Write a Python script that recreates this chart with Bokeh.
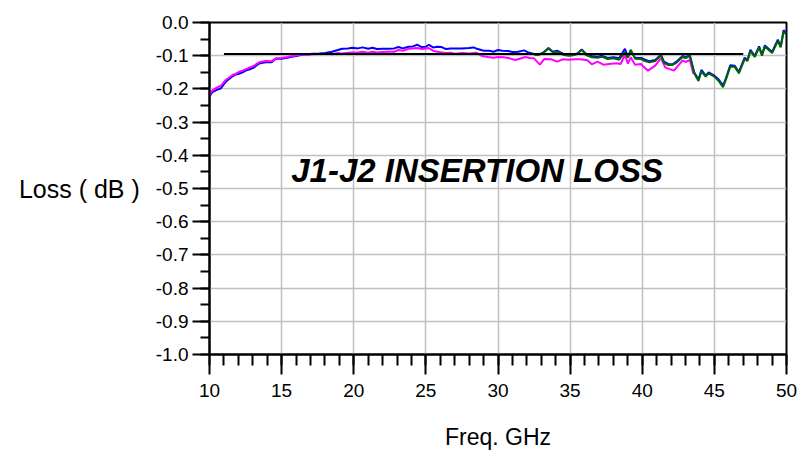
from bokeh.plotting import figure
from bokeh.models import ColumnDataSource, Range1d, FixedTicker, PrintfTickFormatter, Label
from bokeh.embed import file_html
from bokeh.resources import INLINE

# ---- data ----
blue_f = [10.0, 10.2, 10.5, 10.8, 11.1, 11.3, 11.6, 11.8, 12.0, 12.3, 12.5, 12.8, 13.1, 13.4, 13.6, 13.9,
          14.3, 14.6, 15.0, 15.4, 15.7, 16.1, 16.4, 16.8, 17.1, 17.6, 18.0, 18.5, 18.9, 19.2, 19.6, 19.9,
          20.3, 20.6, 21.0, 21.3, 21.6, 22.0, 22.4, 22.8, 23.1, 23.4, 23.8, 24.1, 24.4, 24.7, 25.0, 25.2,
          25.5, 25.8, 26.1, 26.4, 26.7, 27.0, 27.5, 28.0, 28.3, 28.6, 29.0, 29.4, 29.7, 30.0, 30.3, 30.7,
          31.0, 31.4, 31.8, 32.1, 32.5, 32.8, 33.1, 33.5, 33.8, 34.1, 34.5, 34.9, 35.2, 35.5, 35.8, 36.1,
          36.5, 36.9, 37.2, 37.6, 38.0, 38.4, 38.8, 39.0, 39.2, 39.5, 39.9, 40.2, 40.5, 40.9, 41.3, 41.5,
          41.8, 42.1, 42.4, 42.8, 43.0, 43.3, 43.6, 43.9, 44.1, 44.4, 44.6, 45.0, 45.3, 45.6, 45.8, 46.1,
          46.4, 46.7, 47.1, 47.3, 47.5, 47.8, 48.1, 48.3, 48.5, 49.0, 49.4, 49.6, 49.8, 50.0]
blue_db = [-0.222, -0.210, -0.203, -0.198, -0.180, -0.172, -0.162, -0.157, -0.155, -0.150, -0.145, -0.141,
           -0.135, -0.124, -0.122, -0.120, -0.120, -0.109, -0.109, -0.106, -0.103, -0.100, -0.097, -0.096,
           -0.094, -0.093, -0.092, -0.088, -0.083, -0.079, -0.078, -0.076, -0.078, -0.075, -0.079, -0.076,
           -0.080, -0.079, -0.079, -0.078, -0.074, -0.078, -0.073, -0.072, -0.067, -0.074, -0.073, -0.067,
           -0.075, -0.073, -0.074, -0.080, -0.078, -0.078, -0.078, -0.077, -0.075, -0.080, -0.085, -0.085,
           -0.088, -0.083, -0.085, -0.086, -0.089, -0.088, -0.084, -0.090, -0.095, -0.096, -0.092, -0.077,
           -0.088, -0.085, -0.094, -0.098, -0.097, -0.093, -0.081, -0.095, -0.101, -0.103, -0.100, -0.107,
           -0.105, -0.108, -0.079, -0.104, -0.085, -0.106, -0.107, -0.112, -0.117, -0.113, -0.097, -0.118,
           -0.125, -0.126, -0.117, -0.101, -0.104, -0.099, -0.150, -0.172, -0.143, -0.160, -0.150, -0.160,
           -0.172, -0.190, -0.168, -0.129, -0.130, -0.149, -0.106, -0.113, -0.082, -0.101, -0.072, -0.097,
           -0.069, -0.089, -0.052, -0.072, -0.023, -0.032]

magenta_f = [10.0, 10.2, 10.5, 10.8, 11.1, 11.3, 11.6, 11.8, 12.0, 12.3, 12.5, 12.8, 13.1, 13.4, 13.6, 13.9,
             14.3, 14.6, 15.0, 15.4, 15.7, 16.1, 16.4, 16.8, 17.1, 17.6, 18.0, 18.5, 18.9, 19.2, 19.6, 19.9,
             20.3, 20.6, 21.0, 21.3, 21.6, 22.0, 22.4, 22.8, 23.1, 23.4, 23.8, 24.1, 24.4, 24.7, 25.0, 25.2,
             25.5, 25.8, 26.1, 26.4, 26.7, 27.0, 27.5, 28.0, 28.5, 28.9, 29.3, 29.7, 30.0, 30.4, 30.8, 31.2,
             31.5, 31.9, 32.2, 32.5, 32.9, 33.2, 33.7, 34.1, 34.5, 34.9, 35.3, 35.7, 36.2, 36.5, 36.9, 37.3,
             37.7, 38.2, 38.5, 38.8, 39.0, 39.2, 39.5, 39.9, 40.1, 40.4, 40.9, 41.3, 41.6, 42.2, 42.8, 43.0,
             43.3, 43.55]
magenta_db = [-0.218, -0.205, -0.196, -0.190, -0.174, -0.168, -0.158, -0.155, -0.150, -0.145, -0.141, -0.135,
              -0.130, -0.121, -0.118, -0.116, -0.117, -0.108, -0.107, -0.104, -0.101, -0.099, -0.096, -0.098,
              -0.096, -0.095, -0.094, -0.096, -0.092, -0.093, -0.091, -0.090, -0.090, -0.088, -0.091, -0.088,
              -0.090, -0.089, -0.088, -0.088, -0.083, -0.085, -0.079, -0.078, -0.077, -0.080, -0.078, -0.077,
              -0.085, -0.088, -0.090, -0.092, -0.091, -0.094, -0.092, -0.093, -0.091, -0.101, -0.104, -0.106,
              -0.104, -0.105, -0.108, -0.113, -0.109, -0.104, -0.107, -0.108, -0.127, -0.110, -0.111, -0.118,
              -0.111, -0.112, -0.111, -0.111, -0.114, -0.126, -0.118, -0.127, -0.125, -0.123, -0.125, -0.097,
              -0.124, -0.105, -0.127, -0.125, -0.133, -0.145, -0.130, -0.107, -0.136, -0.145, -0.114, -0.119,
              -0.113, -0.155]

green_f = [32.5, 32.8, 33.1, 33.5, 33.8, 34.1, 34.5, 34.9, 35.2, 35.5, 35.8, 36.1, 36.5, 36.9, 37.2, 37.6,
           38.0, 38.4, 38.8, 39.0, 39.2, 39.5, 39.9, 40.2, 40.5, 40.9, 41.3, 41.5, 41.8, 42.1, 42.4, 42.8,
           43.0, 43.3, 43.6, 43.9, 44.1, 44.4, 44.6, 45.0, 45.3, 45.6, 45.8, 46.1, 46.4, 46.7, 47.1, 47.3,
           47.5, 47.8, 48.1, 48.3, 48.5, 49.0, 49.4, 49.6, 49.8, 50.0]
green_db = [-0.097, -0.098, -0.093, -0.078, -0.090, -0.088, -0.097, -0.100, -0.099, -0.095, -0.082, -0.098,
            -0.105, -0.106, -0.103, -0.110, -0.108, -0.112, -0.090, -0.106, -0.082, -0.109, -0.110, -0.116,
            -0.120, -0.116, -0.099, -0.121, -0.128, -0.128, -0.120, -0.104, -0.107, -0.101, -0.153, -0.176,
            -0.147, -0.163, -0.153, -0.163, -0.176, -0.195, -0.172, -0.133, -0.133, -0.153, -0.110, -0.116,
            -0.086, -0.104, -0.075, -0.100, -0.072, -0.092, -0.056, -0.075, -0.027, -0.036]

ref_f = [11.0, 47.0]
ref_db = [-0.095, -0.095]

x_ticks = [10, 15, 20, 25, 30, 35, 40, 45, 50]
x_minor = list(range(10, 51))
y_ticks = [0.0, -0.1, -0.2, -0.3, -0.4, -0.5, -0.6, -0.7, -0.8, -0.9, -1.0]
y_minor = [round(-i * 0.05, 2) for i in range(21)]

title_text = "J1-J2 INSERTION LOSS"
x_label = "Freq. GHz"
y_label = "Loss ( dB )"

FONT = "Liberation Sans"

p = figure(width=797, height=456, output_backend="svg", toolbar_location=None,
           x_range=Range1d(10, 50), y_range=Range1d(-1.0, 0.0),
           min_border_left=209, min_border_right=11, min_border_top=22, min_border_bottom=102)
p.background_fill_color = "white"
p.border_fill_color = "white"
p.outline_line_color = "black"
p.outline_line_width = 2

# axes
p.xaxis.ticker = FixedTicker(ticks=x_ticks, minor_ticks=x_minor)
p.yaxis.ticker = FixedTicker(ticks=y_ticks, minor_ticks=y_minor)
p.yaxis.formatter = PrintfTickFormatter(format="%.1f")
for ax in (p.xaxis, p.yaxis):
    ax.axis_line_color = "black"
    ax.axis_line_width = 2
    ax.major_tick_line_color = "black"
    ax.major_tick_line_width = 2
    ax.minor_tick_line_color = "black"
    ax.minor_tick_line_width = 2
    ax.major_tick_in = 0
    ax.minor_tick_in = 0
    ax.major_label_text_font = FONT
    ax.major_label_text_font_size = "19px"
    ax.major_label_text_color = "black"
p.xaxis.major_tick_out = 20
p.xaxis.minor_tick_out = 11
p.yaxis.major_tick_out = 17
p.yaxis.minor_tick_out = 9
p.xaxis.major_label_standoff = 9
p.yaxis.major_label_standoff = 4

p.xaxis.axis_label = x_label
p.xaxis.axis_label_text_font = FONT
p.xaxis.axis_label_text_font_size = "23px"
p.xaxis.axis_label_text_font_style = "normal"
p.xaxis.axis_label_text_color = "black"
p.xaxis.axis_label_standoff = 24

p.yaxis.axis_label = y_label
p.yaxis.axis_label_orientation = "horizontal"
p.yaxis.axis_label_text_font = FONT
p.yaxis.axis_label_text_font_size = "25px"
p.yaxis.axis_label_text_font_style = "normal"
p.yaxis.axis_label_text_color = "black"
p.yaxis.axis_label_standoff = 13

# grid
p.xgrid.ticker = FixedTicker(ticks=x_ticks)
p.ygrid.ticker = FixedTicker(ticks=y_ticks)
for g in (p.xgrid, p.ygrid):
    g.grid_line_color = "#c0c0c0"
    g.grid_line_width = 1.5

# series
src_b = ColumnDataSource(dict(f=blue_f, db=blue_db))
src_m = ColumnDataSource(dict(f=magenta_f, db=magenta_db))
src_g = ColumnDataSource(dict(f=green_f, db=green_db))
src_r = ColumnDataSource(dict(f=ref_f, db=ref_db))
p.line("f", "db", source=src_b, line_color="#0000ff", line_width=2)
p.line("f", "db", source=src_m, line_color="#ff00ff", line_width=2)
p.line("f", "db", source=src_g, line_color="#006400", line_width=2)
p.line("f", "db", source=src_r, line_color="black", line_width=2)

# title text inside the plot
p.add_layout(Label(x=28.55, y=-0.446, text=title_text, text_font=FONT, text_font_size="33px",
                   text_font_style="bold italic", text_color="black",
                   text_align="center", text_baseline="middle"))

open("out.html", "w").write(file_html(p, INLINE))
